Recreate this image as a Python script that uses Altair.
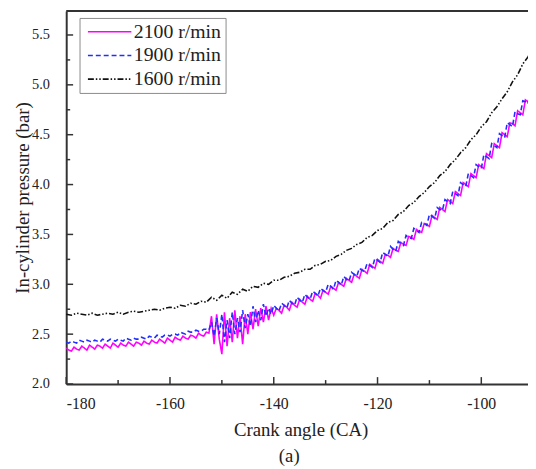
import altair as alt
import pandas as pd

series_names = ["2100 r/min", "1900 r/min", "1600 r/min"]
series_colors = ["#ff00ff", "#1f2fff", "#111111"]
series_dashes = [[1, 0], [5, 3], [6, 2, 1.5, 2, 1.5, 2]]

# crank angle grids (deg)
fine_angles = [-180 + 0.5 * i for i in range(181)]
coarse_angles = list(range(-180, -89))

p_2100 = [
    2.36, 2.34, 2.33, 2.37, 2.35, 2.34, 2.38, 2.36, 2.34, 2.39,
    2.37, 2.35, 2.39, 2.38, 2.36, 2.40, 2.38, 2.36, 2.41, 2.39,
    2.37, 2.41, 2.39, 2.38, 2.42, 2.40, 2.38, 2.42, 2.41, 2.39,
    2.43, 2.41, 2.40, 2.44, 2.42, 2.41, 2.45, 2.43, 2.41, 2.46,
    2.44, 2.42, 2.47, 2.45, 2.44, 2.48, 2.46, 2.45, 2.49, 2.48,
    2.46, 2.51, 2.49, 2.48, 2.52, 2.51, 2.68, 2.40, 2.70, 2.45,
    2.30, 2.72, 2.38, 2.66, 2.42, 2.74, 2.46, 2.68, 2.40, 2.70,
    2.50, 2.72, 2.55, 2.75, 2.58, 2.76, 2.62, 2.78, 2.64, 2.76,
    2.69, 2.76, 2.74, 2.71, 2.79, 2.77, 2.74, 2.82, 2.79, 2.77,
    2.85, 2.82, 2.80, 2.88, 2.85, 2.83, 2.91, 2.89, 2.86, 2.94,
    2.92, 2.90, 2.98, 2.96, 2.94, 3.02, 3.00, 2.98, 3.06, 3.04,
    3.02, 3.10, 3.08, 3.06, 3.15, 3.13, 3.11, 3.20, 3.18, 3.16,
    3.25, 3.23, 3.21, 3.30, 3.29, 3.27, 3.36, 3.34, 3.33, 3.42,
    3.40, 3.39, 3.48, 3.47, 3.45, 3.55, 3.53, 3.52, 3.61, 3.60,
    3.58, 3.69, 3.67, 3.65, 3.77, 3.75, 3.73, 3.85, 3.83, 3.81,
    3.93, 3.91, 3.89, 4.02, 4.00, 3.98, 4.11, 4.09, 4.07, 4.20,
    4.18, 4.16, 4.31, 4.29, 4.27, 4.41, 4.39, 4.37, 4.52, 4.50,
    4.48, 4.62, 4.61, 4.59, 4.74, 4.72, 4.70, 4.85, 4.83, 4.82, 4.97,
]

p_1900 = [
    2.42, 2.41, 2.43, 2.42, 2.41, 2.44, 2.43, 2.42, 2.44, 2.43,
    2.42, 2.44, 2.43, 2.42, 2.45, 2.44, 2.43, 2.45, 2.44, 2.43,
    2.45, 2.44, 2.43, 2.46, 2.45, 2.44, 2.46, 2.45, 2.45, 2.47,
    2.46, 2.45, 2.48, 2.47, 2.46, 2.49, 2.48, 2.47, 2.49, 2.49,
    2.48, 2.50, 2.50, 2.49, 2.52, 2.51, 2.50, 2.53, 2.52, 2.52,
    2.54, 2.53, 2.53, 2.55, 2.55, 2.54, 2.62, 2.48, 2.66, 2.50,
    2.70, 2.42, 2.64, 2.46, 2.72, 2.50, 2.66, 2.52, 2.74, 2.56,
    2.70, 2.58, 2.78, 2.62, 2.74, 2.64, 2.80, 2.68, 2.76, 2.70,
    2.79, 2.76, 2.73, 2.81, 2.79, 2.76, 2.84, 2.81, 2.79, 2.87,
    2.84, 2.82, 2.90, 2.87, 2.85, 2.93, 2.91, 2.88, 2.96, 2.94,
    2.92, 3.00, 2.98, 2.95, 3.04, 3.02, 2.99, 3.08, 3.05, 3.03,
    3.12, 3.10, 3.08, 3.16, 3.14, 3.13, 3.21, 3.19, 3.17, 3.26,
    3.24, 3.22, 3.32, 3.30, 3.28, 3.38, 3.35, 3.33, 3.43, 3.41,
    3.39, 3.49, 3.47, 3.46, 3.56, 3.54, 3.52, 3.62, 3.61, 3.59,
    3.70, 3.68, 3.66, 3.77, 3.75, 3.74, 3.85, 3.83, 3.81, 3.93,
    3.91, 3.89, 4.02, 4.00, 3.98, 4.11, 4.09, 4.07, 4.20, 4.18,
    4.16, 4.30, 4.28, 4.26, 4.41, 4.39, 4.37, 4.51, 4.49, 4.47,
    4.62, 4.60, 4.58, 4.73, 4.71, 4.70, 4.84, 4.83, 4.81, 4.96, 4.94,
]

p_1600 = [
    2.70, 2.69, 2.71, 2.70, 2.69,
    2.71, 2.69, 2.70, 2.71, 2.70,
    2.72, 2.70, 2.72, 2.73, 2.72,
    2.73, 2.74, 2.75, 2.74, 2.76,
    2.77, 2.76, 2.79, 2.78, 2.81,
    2.80, 2.83, 2.82, 2.87, 2.84,
    2.89, 2.86, 2.92, 2.90, 2.95,
    2.93, 2.98, 2.97, 3.01, 3.00,
    3.04, 3.04, 3.07, 3.08, 3.11,
    3.12, 3.15, 3.15, 3.19, 3.20,
    3.23, 3.24, 3.28, 3.30, 3.34,
    3.36, 3.40, 3.42, 3.47, 3.49,
    3.54, 3.56, 3.62, 3.64, 3.70,
    3.73, 3.79, 3.82, 3.88, 3.92,
    3.98, 4.02, 4.09, 4.13, 4.20,
    4.25, 4.32, 4.37, 4.45, 4.50,
    4.58, 4.63, 4.72, 4.78, 4.86,
    4.93, 5.03, 5.10, 5.21, 5.28, 5.38,
]

x_major = [-180, -160, -140, -120, -100]
x_minor = [-170, -150, -130, -110]
y_major = [2.0, 2.5, 3.0, 3.5, 4.0, 4.5, 5.0, 5.5]
y_minor = [2.25, 2.75, 3.25, 3.75, 4.25, 4.75, 5.25]

rows = []
for a, v in zip(coarse_angles, p_1600):
    rows.append({"angle": a, "p": v, "series": "1600 r/min"})
for a, v in zip(fine_angles, p_2100):
    rows.append({"angle": a, "p": v, "series": "2100 r/min"})
for a, v in zip(fine_angles, p_1900):
    rows.append({"angle": a, "p": v, "series": "1900 r/min"})
df = pd.DataFrame(rows)

W, H = 468, 378
FONT = "Liberation Serif"
AXC = "#333333"

xscale = alt.Scale(domain=[-180, -91], nice=False, zero=False)
yscale = alt.Scale(domain=[2.0, 5.74], nice=False, zero=False)

x_axis = alt.Axis(
    values=x_major, labelExpr="'' + datum.value", labelFontSize=16,
    labelPadding=12, titleX=237.5, titleY=46, titleBaseline="middle",
)
y_axis = alt.Axis(
    values=y_major, format=".1f", labelFontSize=14.5,
    labelPadding=17, titleX=-44, titleY=H / 2, titleBaseline="middle",
    titleAlign="center", titleAngle=270,
)
X_TITLE = "Crank angle (CA)"
Y_TITLE = "In-cylinder pressure (bar)"

leg = alt.Legend(
    orient="none", legendX=13.5, legendY=7, title=None,
    symbolType="M-1,0H7", symbolSize=121, symbolStrokeWidth=1.6,
    labelFont=FONT, labelFontSize=20, labelColor="#222222",
    labelOffset=31, rowPadding=4, padding=4,
    strokeColor="#8a8a8a", fillColor="white",
)

lines = alt.Chart(df).mark_line(strokeWidth=1.6, clip=True).encode(
    x=alt.X("angle:Q", scale=xscale, axis=x_axis, title=X_TITLE),
    y=alt.Y("p:Q", scale=yscale, axis=y_axis, title=Y_TITLE),
    color=alt.Color("series:N", scale=alt.Scale(domain=series_names, range=series_colors), legend=leg),
    strokeDash=alt.StrokeDash("series:N", scale=alt.Scale(domain=series_names, range=series_dashes), legend=leg),
)

def xticks(vals, length):
    return alt.Chart(pd.DataFrame({"v": vals})).mark_rule(color=AXC, strokeWidth=1.5).encode(
        x=alt.X("v:Q", scale=xscale, axis=x_axis, title=X_TITLE), y=alt.value(H), y2=alt.value(H - length))

def yticks(vals, length):
    return alt.Chart(pd.DataFrame({"v": vals})).mark_rule(color=AXC, strokeWidth=1.5).encode(
        y=alt.Y("v:Q", scale=yscale, axis=y_axis, title=Y_TITLE), x=alt.value(0), x2=alt.value(length))

top_border = alt.Chart(pd.DataFrame({"v": [0]})).mark_rule(color=AXC, strokeWidth=2).encode(
    x=alt.value(0), x2=alt.value(W), y=alt.value(0))

chart = alt.layer(
    lines, xticks(x_major, 7), xticks(x_minor, 4), yticks(y_major, 7), yticks(y_minor, 4), top_border
).properties(
    width=W, height=H,
    title=alt.TitleParams("(a)", orient="bottom", anchor="middle", font=FONT, fontSize=19,
                          fontWeight="normal", color="#222222", dx=-8, offset=8),
    autosize=alt.AutoSizeParams(type="none"),
    padding={"left": 59, "top": 0, "right": 0, "bottom": 80},
).configure_view(stroke=None).configure_axis(
    labelFont=FONT, labelColor="#222222",
    titleFont=FONT, titleFontSize=19, titleFontWeight="normal", titleColor="#222222",
    domainColor=AXC, domainWidth=2, ticks=True, tickSize=0, tickWidth=0, grid=False,
)

chart.save("out.html", embed_options={"renderer": "svg", "actions": False})
